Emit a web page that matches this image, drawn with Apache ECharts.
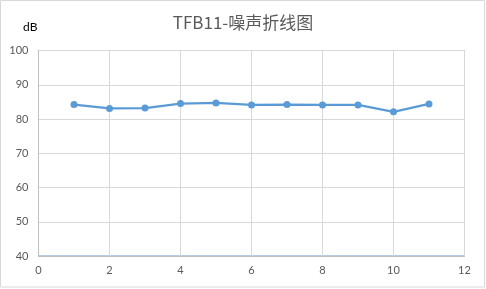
<!DOCTYPE html>
<html><head><meta charset="utf-8">
<script src="https://cdn.jsdelivr.net/npm/echarts@6/dist/echarts.min.js"></script>
<style>html,body{margin:0;padding:0;background:#fff}#c{width:486px;height:289px}</style>
</head><body><div id="c"></div>
<script>
var xValues = [1, 2, 3, 4, 5, 6, 7, 8, 9, 10, 11];
var noise = [84.2, 83.1, 83.2, 84.5, 84.7, 84.1, 84.2, 84.1, 84.1, 82.1, 84.4];
var titleText = 'TFB11-噪声折线图';
var yName = 'dB';

var chart = echarts.init(document.getElementById('c'), null, {renderer: 'canvas'});
chart.setOption({
  animation: false,
  title: {
    text: titleText, left: 'center', top: 9,
    textStyle: {fontFamily: '"Noto Sans CJK SC", sans-serif', fontSize: 17, fontWeight: 'normal', color: '#595959'}
  },
  graphic: [{
    type: 'rect', shape: {x: 0.5, y: 0.5, width: 484, height: 286.5},
    style: {fill: 'none', stroke: '#d9d9d9', lineWidth: 1}, silent: true, z: -1
  }, {
    type: 'text', left: 23, top: 21,
    style: {text: yName, font: '12px Lato, "Noto Sans", sans-serif', fill: '#000'}
  }],
  grid: {left: 38.5, right: 21.5, top: 50.5, bottom: 33, show: true, borderColor: '#6f97c0', borderWidth: 1},
  xAxis: {
    type: 'value', min: 0, max: 12, interval: 2,
    axisLine: {show: true, lineStyle: {color: '#bfbfbf'}},
    axisTick: {show: false},
    splitLine: {show: true, lineStyle: {color: '#d9d9d9'}},
    axisLabel: {color: '#595959', fontSize: 11, fontFamily: 'Lato, "Noto Sans", sans-serif', margin: 9}
  },
  yAxis: {
    type: 'value', min: 40, max: 100, interval: 10,
    axisLine: {show: true, lineStyle: {color: '#bfbfbf'}},
    axisTick: {show: false},
    splitLine: {show: true, lineStyle: {color: '#d9d9d9'}},
    axisLabel: {color: '#595959', fontSize: 11, fontFamily: 'Lato, "Noto Sans", sans-serif', margin: 10}
  },
  series: [{
    type: 'line',
    data: xValues.map(function (x, i) { return [x, noise[i]]; }),
    symbol: 'circle', symbolSize: 7,
    lineStyle: {color: '#5b9bd5', width: 2.25},
    itemStyle: {color: '#5b9bd5'}
  }]
});
</script></body></html>
